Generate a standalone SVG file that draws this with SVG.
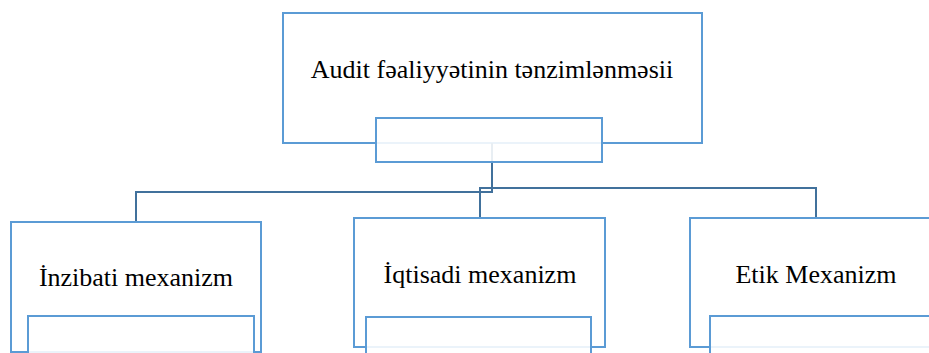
<svg xmlns="http://www.w3.org/2000/svg" width="929" height="353" viewBox="0 0 929 353">
<style>
.box{fill:#ffffff;stroke:#5B9BD5;stroke-width:2}
.sub{fill:#ffffff;fill-opacity:0.88;stroke:#5B9BD5;stroke-width:2}
.conn{fill:none;stroke:#41719C;stroke-width:2}
.lbl{font-family:"Liberation Serif","Times New Roman",serif;font-size:26px;fill:#000000;text-anchor:middle}
</style>
<rect width="929" height="353" fill="#ffffff"/>
<g id="node-root">
<rect class="box" x="283" y="13" width="419" height="130"/>
<text class="lbl" x="492" y="78">Audit fəaliyyətinin tənzimlənməsii</text>
</g>
<g id="connectors">
<path class="conn" d="M492,143 V192 H136 V222"/>
<path class="conn" d="M480,217 V188 H816 V218"/>
</g>
<g id="node-root-sub">
<rect class="sub" x="376" y="118" width="226" height="44"/>
</g>
<g id="node-inzibati">
<rect class="box" x="11" y="222" width="250" height="130"/>
<text class="lbl" x="136" y="286">İnzibati mexanizm</text>
<rect class="sub" x="28" y="316" width="226" height="50"/>
</g>
<g id="node-iqtisadi">
<rect class="box" x="354" y="218" width="251" height="129"/>
<text class="lbl" x="480" y="283">İqtisadi mexanizm</text>
<rect class="sub" x="366" y="317" width="225" height="50"/>
</g>
<g id="node-etik">
<rect class="box" x="690" y="218" width="260" height="129"/>
<text class="lbl" x="816" y="283">Etik Mexanizm</text>
<rect class="sub" x="710" y="316" width="240" height="50"/>
</g>
</svg>
